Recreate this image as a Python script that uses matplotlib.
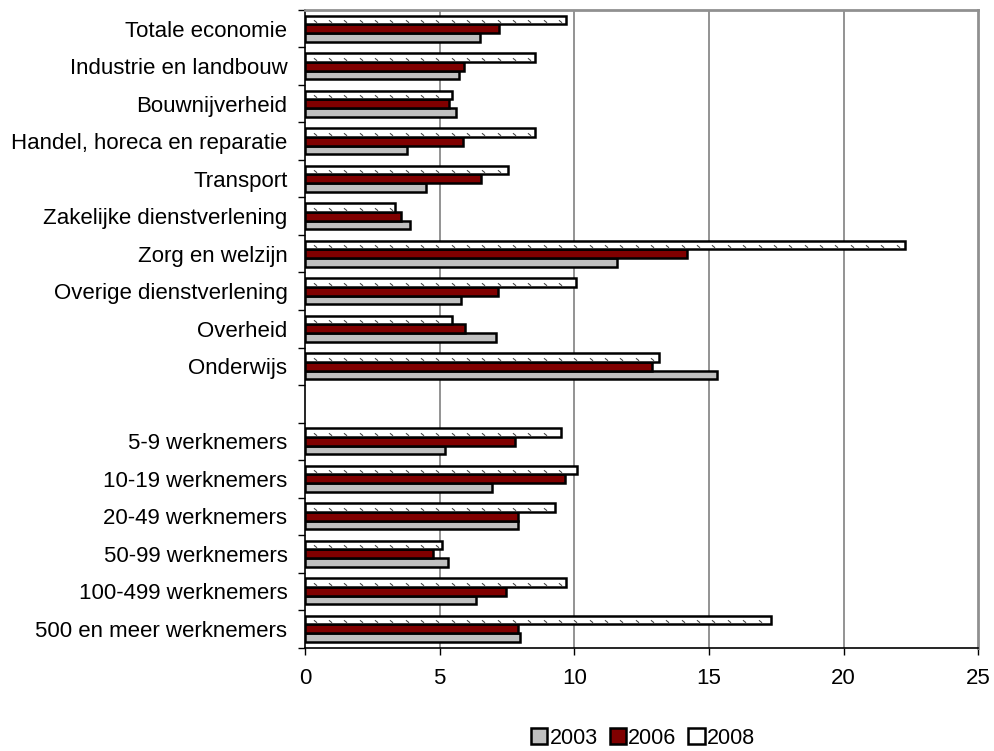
import matplotlib
matplotlib.use("Agg")
import matplotlib.pyplot as plt
import numpy as np
from matplotlib.patches import Patch
from matplotlib.path import Path

plt.rcParams['font.family'] = ['Liberation Sans', 'DejaVu Sans']

# Sectors (upper block) and company size classes (lower block)
sectors = ["Totale economie", "Industrie en landbouw", "Bouwnijverheid",
           "Handel, horeca en reparatie", "Transport", "Zakelijke dienstverlening",
           "Zorg en welzijn", "Overige dienstverlening", "Overheid", "Onderwijs"]
sizes = ["5-9 werknemers", "10-19 werknemers", "20-49 werknemers",
         "50-99 werknemers", "100-499 werknemers", "500 en meer werknemers"]

sect_2003 = [6.5, 5.7, 5.6, 3.8, 4.5, 3.9, 11.6, 5.8, 7.1, 15.3]
sect_2006 = [7.2, 5.9, 5.35, 5.85, 6.55, 3.55, 14.2, 7.15, 5.95, 12.9]
sect_2008 = [9.7, 8.55, 5.45, 8.55, 7.55, 3.35, 22.3, 10.05, 5.45, 13.15]

size_2003 = [5.2, 6.95, 7.9, 5.3, 6.35, 8.0]
size_2006 = [7.8, 9.65, 7.9, 4.75, 7.45, 7.9]
size_2008 = [9.5, 10.1, 9.3, 5.1, 9.7, 17.3]

years = ["2003", "2006", "2008"]

labels = sectors + sizes
pos = np.r_[np.arange(len(sectors)), np.arange(len(sizes)) + len(sectors) + 1]
v2003 = np.r_[sect_2003, size_2003]
v2006 = np.r_[sect_2006, size_2006]
v2008 = np.r_[sect_2008, size_2008]

fig = plt.figure(figsize=(9.94, 7.51), dpi=100)
ax = fig.add_axes([0.307, 0.1378, 0.677, 0.8489])

h = 0.232
edge = dict(edgecolor="black", linewidth=1.8)
ax.barh(pos + h, v2003, height=h, color="#C0C0C0", **edge, zorder=3)
ax.barh(pos, v2006, height=h, color="#800000", **edge, zorder=3)
ax.barh(pos - h, v2008, height=h, color="white", **edge, zorder=3)

# Small dash pattern inside the 2008 bars
dash = Path([(-1, 0.8), (1, -0.8)], [Path.MOVETO, Path.LINETO])
step = 0.57
px, py = [], []
for y, v in zip(pos - h, v2008):
    xs = np.arange(0.35, v - 0.15, step)
    px.extend(xs)
    py.extend([y + 0.12 * h] * len(xs))
ax.scatter(px, py, marker=dash, s=5, color="#404040", linewidths=0.75, zorder=4)

n_slots = len(sectors) + 1 + len(sizes)
ax.set_ylim(n_slots - 0.5, -0.5)
ax.set_xlim(0, 25)

ax.set_xticks(np.arange(0, 26, 5))
ax.tick_params(axis="x", direction="out", length=5, width=1, labelsize=16, pad=10)
ax.set_yticks(pos)
ax.set_yticklabels(labels)
ax.tick_params(axis="y", which="major", length=0, labelsize=16, pad=12.8)
ax.set_yticks(np.arange(-0.5, n_slots), minor=True)
ax.tick_params(axis="y", which="minor", direction="out", length=5, width=1)

for x in range(5, 25, 5):
    ax.axvline(x, color="#808080", linewidth=1.2, zorder=1)

for side in ("left", "bottom"):
    ax.spines[side].set_color("black")
    ax.spines[side].set_linewidth(1.2)
for side in ("top", "right"):
    ax.spines[side].set_color("#909090")
    ax.spines[side].set_linewidth(2)

handles = [Patch(facecolor="#C0C0C0", **edge),
           Patch(facecolor="#800000", **edge),
           Patch(facecolor="white", **edge)]
fig.legend(handles, years, loc="center", bbox_to_anchor=(0.647, 0.017), ncol=3,
           frameon=False, fontsize=15.5, handlelength=0.75, handleheight=0.75,
           handletextpad=0.12, columnspacing=0.55, borderpad=0)

fig.savefig("out.png", dpi=100)
